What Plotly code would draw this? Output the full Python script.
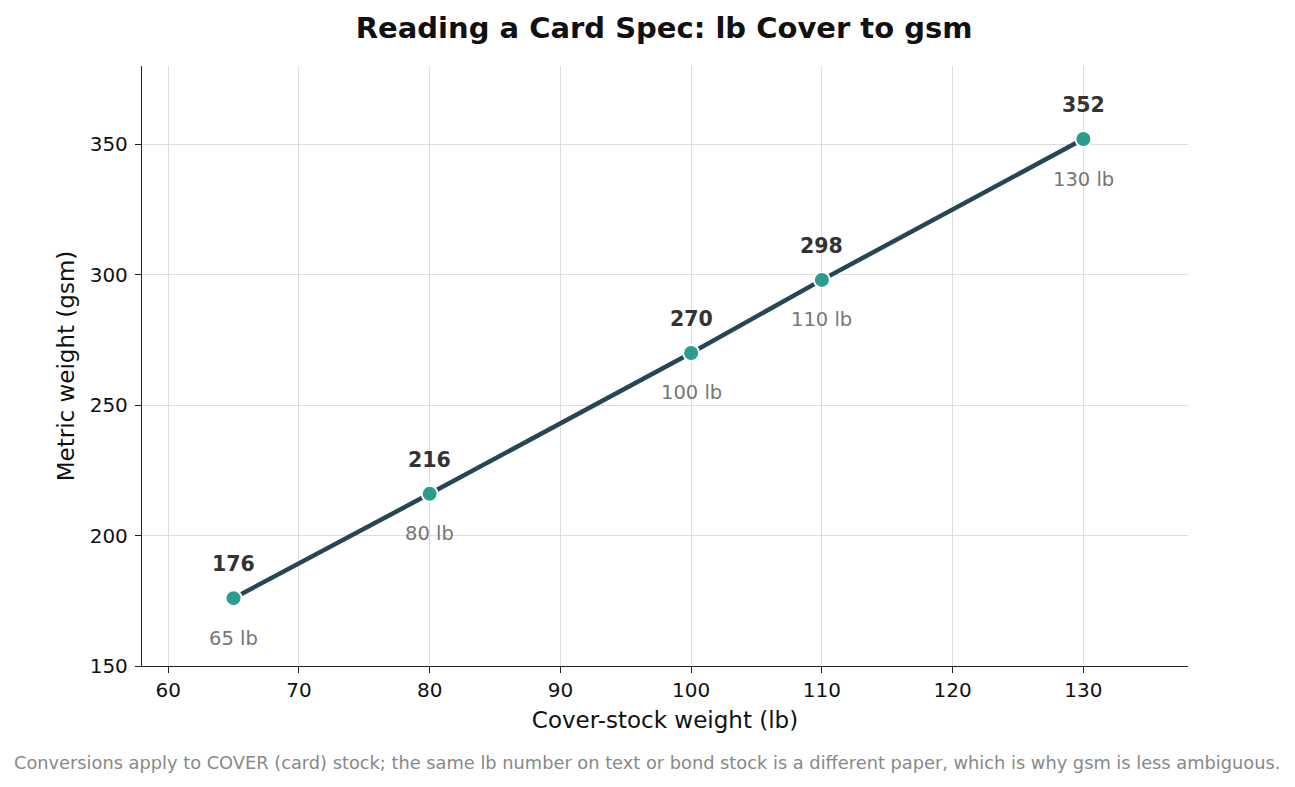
import plotly.graph_objects as go

lb_cover = [65, 80, 100, 110, 130]
gsm = [176, 216, 270, 298, 352]
lb_labels = ['65 lb', '80 lb', '100 lb', '110 lb', '130 lb']

FONT = 'DejaVu Sans'

fig = go.Figure()
fig.add_trace(go.Scatter(
    x=lb_cover, y=gsm, mode='lines+markers',
    line=dict(color='#264653', width=4.5),
    marker=dict(color='#2a9d8f', size=16, line=dict(color='white', width=2)),
    hoverinfo='skip', showlegend=False,
))

# value above, lb label below each point
for x, y, lab in zip(lb_cover, gsm, lb_labels):
    fig.add_annotation(x=x, y=y, text=f'<b>{y}</b>', showarrow=False, yshift=34,
                       font=dict(family=FONT, size=20.5, color='#333333'))
    fig.add_annotation(x=x, y=y, text=lab, showarrow=False, yshift=-40,
                       font=dict(family=FONT, size=19.5, color='#777777'))

fig.add_annotation(
    xref='paper', yref='paper', x=0.483, y=-0.16, xanchor='center', yanchor='middle',
    text='Conversions apply to COVER (card) stock; the same lb number on text or bond stock is a different paper, which is why gsm is less ambiguous.',
    showarrow=False, font=dict(family=FONT, size=17.8, color='#888888'),
)

axis_common = dict(
    showline=True, linecolor='#222222', linewidth=1.3, mirror=False,
    ticks='outside', ticklen=6, tickwidth=1.3, tickcolor='#222222',
    showgrid=True, gridcolor='#dddddd', gridwidth=1.3, zeroline=False,
    tickfont=dict(family=FONT, size=20, color='#111111'),
)

fig.update_xaxes(range=[58, 138], dtick=10, tick0=60,
                 title=dict(text='Cover-stock weight (lb)', font=dict(family=FONT, size=23, color='#111111'), standoff=10),
                 **axis_common)
fig.update_yaxes(range=[150, 380], dtick=50, tick0=150, ticklabelstandoff=3,
                 title=dict(text='Metric weight (gsm)', font=dict(family=FONT, size=23, color='#111111'), standoff=8),
                 **axis_common)

fig.update_layout(
    width=1279, height=771,
    margin=dict(l=134, r=99, t=58, b=113),
    plot_bgcolor='white', paper_bgcolor='white',
    title=dict(text='<b>Reading a Card Spec: lb Cover to gsm</b>', x=0.513, xanchor='center', y=0.974, yanchor='middle',
               font=dict(family=FONT, size=29, color='#111111')),
    font=dict(family=FONT),
)

fig.write_html('out.html')
